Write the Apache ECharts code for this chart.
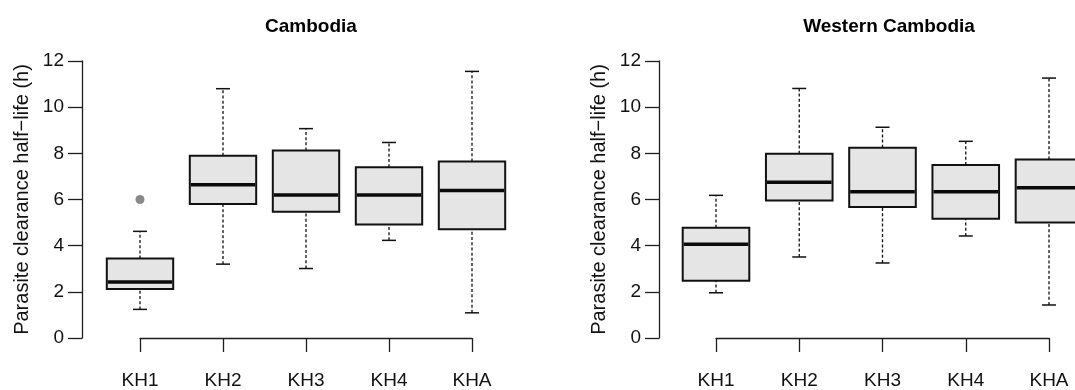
<!DOCTYPE html>
<html>
<head>
<meta charset="utf-8">
<script src="https://cdn.jsdelivr.net/npm/echarts@6/dist/echarts.min.js"></script>
<style>
html,body{margin:0;padding:0;background:#fff;}
#chart{width:1075px;height:390px;}
</style>
</head>
<body>
<div id="chart"></div>
<script>
// ---- data ----
const categories = ['KH1', 'KH2', 'KH3', 'KH4', 'KHA'];
// [lower whisker, Q1, median, Q3, upper whisker]
const cambodiaStats = [
  [1.24, 2.12, 2.43, 3.44, 4.62],
  [3.20, 5.80, 6.64, 7.90, 10.80],
  [3.01, 5.47, 6.19, 8.12, 9.07],
  [4.23, 4.92, 6.19, 7.40, 8.47],
  [1.09, 4.71, 6.39, 7.65, 11.55]
];
const cambodiaOutliers = [['KH1', 6.0]];
const westernStats = [
  [1.96, 2.48, 4.06, 4.78, 6.18],
  [3.51, 5.96, 6.75, 7.98, 10.81],
  [3.25, 5.67, 6.34, 8.24, 9.13],
  [4.42, 5.17, 6.34, 7.50, 8.52],
  [1.43, 5.00, 6.51, 7.73, 11.26]
];
const westernOutliers = [];
const yMin = 0, yMax = 12, yStep = 2;
const titles = ['Cambodia', 'Western Cambodia'];
const yName = 'Parasite clearance half\u2212life (h)';

const FONT = '"Liberation Sans", Arial, Helvetica, sans-serif';
const AXIS_COLOR = '#1e1e1e';

function toBoxData(stats) {
  return categories.map((c, i) => [i].concat(stats[i]));
}

function renderBox(params, api) {
  const x = api.value(0);
  const lo = api.coord([x, api.value(1)]);
  const q1 = api.coord([x, api.value(2)]);
  const md = api.coord([x, api.value(3)]);
  const q3 = api.coord([x, api.value(4)]);
  const hi = api.coord([x, api.value(5)]);
  const band = api.size([1, 0])[0];
  const w = band * 0.8;
  const cx = lo[0];
  const cap = 7;
  const dash = { stroke: '#111', lineWidth: 1.3, lineDash: [3, 2.2] };
  const solid = { stroke: '#111', lineWidth: 1.5 };
  return {
    type: 'group',
    children: [
      { type: 'line', shape: { x1: cx, y1: lo[1], x2: cx, y2: q1[1] }, style: dash },
      { type: 'line', shape: { x1: cx, y1: q3[1], x2: cx, y2: hi[1] }, style: dash },
      { type: 'line', shape: { x1: cx - cap, y1: lo[1], x2: cx + cap, y2: lo[1] }, style: solid },
      { type: 'line', shape: { x1: cx - cap, y1: hi[1], x2: cx + cap, y2: hi[1] }, style: solid },
      { type: 'rect', shape: { x: cx - w / 2, y: q3[1], width: w, height: q1[1] - q3[1] },
        style: { fill: '#e5e5e5', stroke: '#111', lineWidth: 2 } },
      { type: 'line', shape: { x1: cx - w / 2 + 1, y1: md[1], x2: cx + w / 2 - 1, y2: md[1] },
        style: { stroke: '#0a0a0a', lineWidth: 3.5 } }
    ]
  };
}

function xAxisCfg(gridIndex) {
  return {
    type: 'category', gridIndex: gridIndex, data: categories, boundaryGap: false,
    position: 'bottom', offset: 11,
    axisLine: { show: true, lineStyle: { color: AXIS_COLOR, width: 1.3 } },
    axisTick: { show: true, length: 14, alignWithLabel: true, lineStyle: { color: AXIS_COLOR, width: 1.3 } },
    axisLabel: { color: '#111', fontSize: 19, fontFamily: FONT, margin: 22, interval: 0 },
    splitLine: { show: false }
  };
}
function yAxisCfg(gridIndex, offset) {
  return {
    type: 'value', gridIndex: gridIndex, min: yMin, max: yMax, interval: yStep,
    offset: offset,
    name: yName, nameLocation: 'middle', nameRotate: 90, nameGap: 50,
    nameTextStyle: { color: '#111', fontSize: 20, fontFamily: FONT },
    axisLine: { show: true, lineStyle: { color: AXIS_COLOR, width: 1.3 } },
    axisTick: { show: true, length: 14, lineStyle: { color: AXIS_COLOR, width: 1.3 } },
    axisLabel: { color: '#111', fontSize: 19, fontFamily: FONT, margin: 18 },
    splitLine: { show: false }
  };
}

const chart = echarts.init(document.getElementById('chart'), null, { renderer: 'canvas' });
chart.setOption({
  animation: false,
  backgroundColor: '#fff',
  title: [
    { text: titles[0], left: 306, top: 12, textAlign: 'center',
      textStyle: { fontSize: 19, fontWeight: 'bold', color: '#000', fontFamily: FONT } },
    { text: titles[1], left: 884, top: 12, textAlign: 'center',
      textStyle: { fontSize: 19, fontWeight: 'bold', color: '#000', fontFamily: FONT } }
  ],
  grid: [
    { left: 140, width: 332, top: 61, height: 278 },
    { left: 716, width: 333, top: 61, height: 278 }
  ],
  xAxis: [xAxisCfg(0), xAxisCfg(1)],
  yAxis: [yAxisCfg(0, 58), yAxisCfg(1, 57)],
  series: [
    { type: 'custom', xAxisIndex: 0, yAxisIndex: 0, renderItem: renderBox,
      encode: { x: 0, y: [1, 2, 3, 4, 5] }, data: toBoxData(cambodiaStats), clip: false },
    { type: 'scatter', xAxisIndex: 0, yAxisIndex: 0, data: cambodiaOutliers,
      symbolSize: 9, itemStyle: { color: '#6b6b6b' } },
    { type: 'custom', xAxisIndex: 1, yAxisIndex: 1, renderItem: renderBox,
      encode: { x: 0, y: [1, 2, 3, 4, 5] }, data: toBoxData(westernStats), clip: false },
    { type: 'scatter', xAxisIndex: 1, yAxisIndex: 1, data: westernOutliers,
      symbolSize: 9, itemStyle: { color: '#6b6b6b' } }
  ]
});
</script>
</body>
</html>
